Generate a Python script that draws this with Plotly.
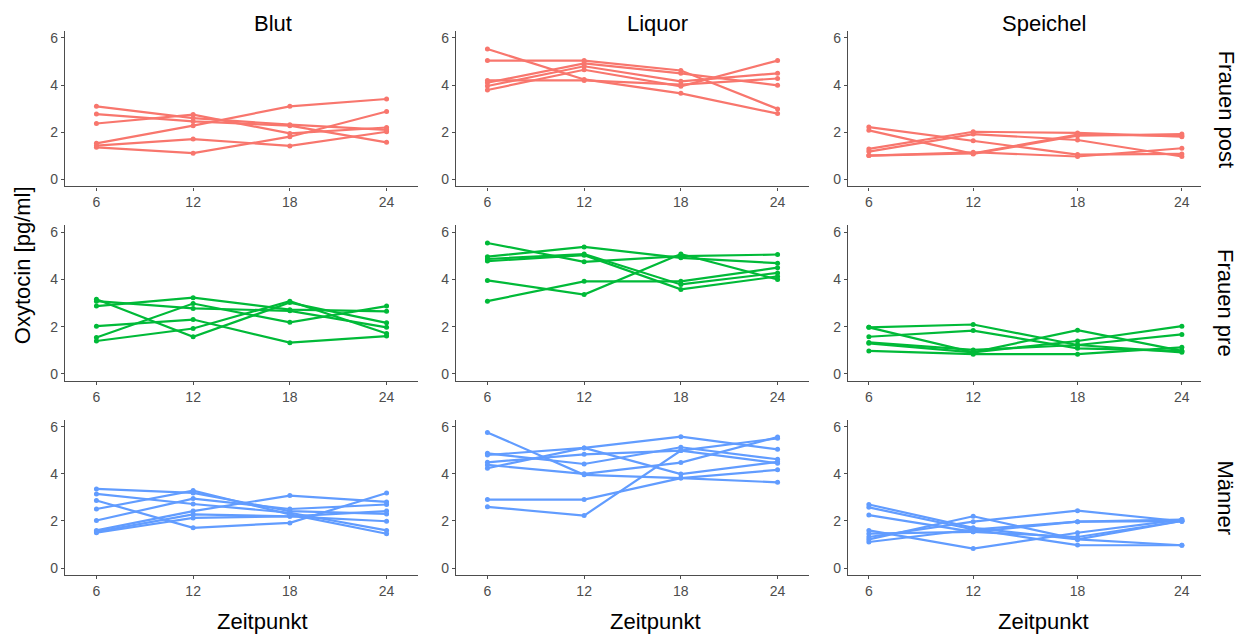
import plotly.graph_objects as go

W, H = 1244, 636
timepoints = [6, 12, 18, 24]
materials = ["Blut", "Liquor", "Speichel"]
groups = ["Frauen post", "Frauen pre", "Männer"]
group_colors = {"Frauen post": "#F8766D", "Frauen pre": "#00BA38", "Männer": "#619CFF"}

# Frauen post
fpost_blut = [[3.10, 2.60, 2.32, 2.10], [2.77, 2.46, 2.28, 1.57], [2.37, 2.75, 1.95, 2.20],
              [1.53, 2.28, 3.10, 3.41], [1.43, 1.71, 1.42, 2.02], [1.36, 1.11, 1.81, 2.88]]
fpost_liquor = [[5.53, 4.24, 3.65, 2.79], [5.04, 5.04, 4.62, 2.99], [4.20, 4.20, 4.02, 4.28],
                [4.10, 4.92, 4.50, 3.99], [3.96, 4.80, 4.16, 4.50], [3.79, 4.65, 3.95, 5.04]]
fpost_speichel = [[2.22, 1.64, 1.05, 1.08], [2.08, 1.08, 1.85, 1.92], [1.29, 2.02, 1.97, 1.81],
                  [1.18, 1.92, 1.67, 0.97], [1.01, 1.15, 0.97, 1.32], [1.01, 1.10, 1.90, 1.85]]
# Frauen pre
fpre_blut = [[3.16, 1.57, 3.02, 2.16], [3.08, 2.77, 2.67, 1.97], [2.87, 3.23, 2.72, 2.65],
             [2.02, 2.30, 1.32, 1.60], [1.54, 2.98, 2.18, 2.87], [1.39, 1.92, 3.08, 1.71]]
fpre_liquor = [[5.55, 4.75, 4.99, 5.06], [4.97, 5.38, 4.92, 4.69], [4.87, 5.08, 3.79, 4.28],
               [4.78, 5.03, 3.58, 4.13], [3.96, 3.36, 5.08, 4.00], [3.08, 3.92, 3.92, 4.50]]
fpre_speichel = [[1.97, 2.09, 1.22, 0.91], [1.97, 0.91, 1.85, 0.97], [1.57, 1.83, 1.08, 0.97],
                 [1.33, 1.01, 1.22, 1.67], [1.29, 0.91, 1.39, 2.02], [0.97, 0.83, 0.83, 1.12]]
# Männer
m_blut = [[3.36, 3.19, 2.42, 2.30], [3.15, 2.72, 2.35, 1.60], [2.87, 1.71, 1.92, 3.19],
          [2.51, 3.29, 2.28, 1.46], [2.02, 2.95, 2.51, 2.70], [1.60, 2.42, 3.08, 2.81],
          [1.54, 2.28, 2.20, 1.99], [1.50, 2.13, 2.20, 2.42]]
m_liquor = [[5.76, 3.96, 3.82, 3.64], [4.87, 4.42, 5.13, 4.62], [4.80, 5.10, 3.99, 4.51],
            [4.49, 4.83, 4.99, 4.45], [4.38, 4.00, 4.48, 5.56], [4.24, 5.10, 5.58, 5.04],
            [2.91, 2.91, 3.82, 4.17], [2.60, 2.23, 4.99, 5.51]]
m_speichel = [[2.70, 1.71, 1.22, 2.00], [2.58, 1.64, 0.98, 0.97], [2.25, 1.54, 1.32, 2.00],
              [1.60, 0.83, 1.50, 2.06], [1.46, 1.54, 1.97, 1.99], [1.32, 1.97, 2.44, 1.99],
              [1.22, 2.20, 1.22, 0.97], [1.11, 1.64, 1.97, 2.06]]

data = {
    ("Frauen post", "Blut"): fpost_blut, ("Frauen post", "Liquor"): fpost_liquor,
    ("Frauen post", "Speichel"): fpost_speichel,
    ("Frauen pre", "Blut"): fpre_blut, ("Frauen pre", "Liquor"): fpre_liquor,
    ("Frauen pre", "Speichel"): fpre_speichel,
    ("Männer", "Blut"): m_blut, ("Männer", "Liquor"): m_liquor, ("Männer", "Speichel"): m_speichel,
}

# pixel layout
col_px = [(65, 418), (456, 809), (848, 1201)]
col_xrange = [[4.05, 25.95], [4.05, 25.95], [4.8, 25.1]]
row_px = [(30, 186), (225, 381), (420, 576)]

fig = go.Figure()
layout = {}
axis_color = "#4d4d4d"
tick_font = dict(family="Liberation Sans, Arial", size=14, color="#4d4d4d")

for r, g in enumerate(groups):
    for c, m in enumerate(materials):
        idx = r * 3 + c + 1
        xa = "x" if idx == 1 else f"x{idx}"
        ya = "y" if idx == 1 else f"y{idx}"
        for series in data[(g, m)]:
            fig.add_trace(go.Scatter(
                x=timepoints, y=series, mode="lines+markers", xaxis=xa, yaxis=ya,
                line=dict(color=group_colors[g], width=2.2),
                marker=dict(color=group_colors[g], size=5),
                showlegend=False, hoverinfo="x+y"))
        x0, x1 = col_px[c]
        y0, y1 = row_px[r]
        layout["xaxis" if idx == 1 else f"xaxis{idx}"] = dict(
            domain=[x0 / W, x1 / W], anchor=ya, range=col_xrange[c],
            tickvals=timepoints, ticks="outside", ticklen=3, tickcolor=axis_color,
            showline=True, linecolor=axis_color, linewidth=1.3, showgrid=False,
            zeroline=False, tickfont=tick_font)
        layout["yaxis" if idx == 1 else f"yaxis{idx}"] = dict(
            domain=[(H - y1) / H, (H - y0) / H], anchor=xa, range=[-0.3, 6.3],
            tickvals=[0, 2, 4, 6], ticks="outside", ticklen=3, tickcolor=axis_color,
            showline=True, linecolor=axis_color, linewidth=1.3, showgrid=False,
            zeroline=False, tickfont=tick_font)

annotations = []
title_font = dict(family="Liberation Sans, Arial", size=22, color="black")
title_x = [273, 657, 1044]
for c, m in enumerate(materials):
    annotations.append(dict(text=m, x=title_x[c] / W, y=(H - 23) / H, xref="paper", yref="paper",
                            showarrow=False, font=title_font, xanchor="center", yanchor="middle"))
xt_x = [262, 655, 1043]
for c in range(3):
    annotations.append(dict(text="Zeitpunkt", x=xt_x[c] / W, y=(H - 622) / H, xref="paper",
                            yref="paper", showarrow=False, font=title_font,
                            xanchor="center", yanchor="middle"))
row_center = [108, 303, 498]
for r, g in enumerate(groups):
    annotations.append(dict(text=g, x=1226 / W, y=(H - row_center[r]) / H, xref="paper",
                            yref="paper", showarrow=False, font=title_font, textangle=90,
                            xanchor="center", yanchor="middle"))
annotations.append(dict(text="Oxytocin [pg/ml]", x=22 / W, y=(H - 265) / H, xref="paper",
                        yref="paper", showarrow=False, font=title_font, textangle=-90,
                        xanchor="center", yanchor="middle"))

fig.update_layout(width=W, height=H, margin=dict(l=0, r=0, t=0, b=0),
                  plot_bgcolor="white", paper_bgcolor="white",
                  annotations=annotations, **layout)
fig.write_html("out.html")
